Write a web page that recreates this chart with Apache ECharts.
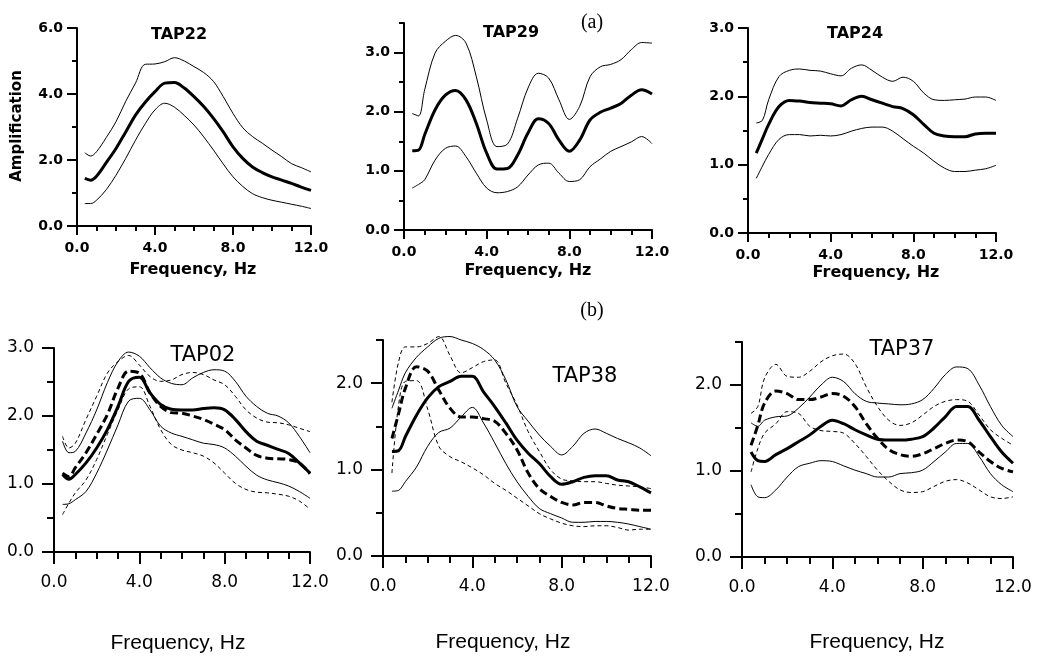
<!DOCTYPE html>
<html>
<head>
<meta charset="utf-8">
<script src="https://cdn.jsdelivr.net/npm/echarts@6/dist/echarts.min.js"></script>
<style>
html,body{margin:0;padding:0;background:#fff;}
#chart{width:1041px;height:657px;}
</style>
</head>
<body>
<div id="chart"></div>
<script>
// ---------------- DATA ----------------
const freq = [0.4,0.7,1,1.5,2,2.5,3,3.5,4,4.5,5,5.5,6,6.5,7,7.5,8,8.5,9,9.5,10,10.5,11,11.5,12];
const xTickLabels = ['0.0','4.0','8.0','12.0'];
const yTickLabels6 = ['0.0','2.0','4.0','6.0'];
const yTickLabels3 = ['0.0','1.0','2.0','3.0'];
const yTickLabels2 = ['0.0','1.0','2.0'];
const panelTitles = ['TAP22','TAP29','TAP24','TAP02','TAP38','TAP37'];

// (a) TAP22
const tap22Mean  = [1.44,1.39,1.51,1.92,2.35,2.85,3.36,3.75,4.07,4.33,4.35,4.18,3.92,3.62,3.26,2.85,2.40,2.05,1.79,1.62,1.49,1.39,1.29,1.18,1.08];
const tap22Upper = [2.22,2.12,2.25,2.68,3.16,3.78,4.33,4.90,4.91,4.98,5.10,5.00,4.83,4.65,4.38,3.92,3.41,2.98,2.71,2.51,2.30,2.10,1.89,1.77,1.64];
const tap22Lower = [0.68,0.68,0.78,1.10,1.54,2.05,2.60,3.10,3.52,3.72,3.60,3.35,3.06,2.70,2.30,1.88,1.49,1.20,0.98,0.86,0.78,0.72,0.66,0.60,0.53];
// (a) TAP29
const tap29Mean  = [1.34,1.35,1.61,2.03,2.28,2.36,2.20,1.80,1.30,1.03,1.04,1.27,1.64,1.88,1.80,1.52,1.33,1.52,1.86,1.99,2.06,2.14,2.28,2.37,2.30];
const tap29Upper = [1.97,1.93,2.37,2.99,3.19,3.29,3.16,2.59,1.86,1.41,1.45,1.89,2.40,2.65,2.57,2.20,1.87,2.09,2.59,2.76,2.80,2.88,3.05,3.17,3.16];
const tap29Lower = [0.71,0.77,0.85,1.18,1.38,1.42,1.24,0.96,0.71,0.63,0.65,0.73,0.93,1.10,1.13,0.96,0.82,0.85,1.07,1.20,1.33,1.41,1.49,1.58,1.46];
// (a) TAP24
const tap24Mean  = [1.17,1.38,1.59,1.85,1.94,1.93,1.91,1.90,1.89,1.86,1.95,2.00,1.95,1.90,1.85,1.82,1.73,1.59,1.46,1.42,1.41,1.41,1.45,1.46,1.46];
const tap24Upper = [1.61,1.65,1.95,2.29,2.38,2.40,2.38,2.37,2.33,2.30,2.41,2.46,2.38,2.28,2.22,2.28,2.22,2.05,1.95,1.94,1.95,1.96,1.99,1.99,1.94];
const tap24Lower = [0.80,0.98,1.15,1.37,1.44,1.44,1.42,1.43,1.42,1.44,1.49,1.53,1.55,1.55,1.49,1.38,1.27,1.17,1.05,0.95,0.90,0.90,0.92,0.94,0.99];
// (b) TAP02
const tap02MeanA  = [1.14,1.07,1.14,1.31,1.53,1.80,2.14,2.51,2.57,2.34,2.17,2.10,2.09,2.09,2.11,2.12,2.09,1.95,1.77,1.63,1.57,1.51,1.45,1.31,1.16];
const tap02MeanB  = [1.16,1.11,1.24,1.46,1.73,2.02,2.41,2.66,2.63,2.34,2.14,2.05,2.04,2.00,1.95,1.88,1.80,1.65,1.53,1.42,1.38,1.37,1.36,1.31,1.15];
const tap02UpperA = [1.63,1.46,1.48,1.75,2.09,2.49,2.80,2.94,2.88,2.71,2.56,2.48,2.46,2.56,2.64,2.68,2.66,2.51,2.29,2.14,2.04,2.00,1.90,1.70,1.46];
const tap02LowerA = [0.70,0.71,0.77,0.89,1.16,1.50,1.87,2.22,2.26,2.09,1.85,1.75,1.70,1.65,1.60,1.58,1.53,1.41,1.26,1.13,1.06,1.02,0.97,0.89,0.79];
const tap02UpperB = [1.70,1.53,1.60,1.95,2.29,2.63,2.80,2.89,2.75,2.58,2.51,2.53,2.61,2.64,2.61,2.53,2.46,2.29,2.09,1.97,1.91,1.90,1.87,1.82,1.77];
const tap02LowerB = [0.55,0.72,0.87,1.06,1.36,1.73,2.09,2.40,2.43,2.14,1.80,1.58,1.50,1.46,1.41,1.31,1.16,1.01,0.92,0.88,0.87,0.85,0.82,0.75,0.63];
// (b) TAP38
const tap38MeanA  = [1.21,1.22,1.38,1.63,1.83,1.96,2.02,2.08,2.08,1.90,1.73,1.54,1.34,1.19,1.07,0.92,0.83,0.86,0.91,0.93,0.93,0.88,0.86,0.80,0.73];
const tap38MeanB  = [1.36,1.65,1.94,2.19,2.14,1.92,1.71,1.61,1.61,1.59,1.56,1.42,1.23,0.96,0.78,0.69,0.62,0.59,0.62,0.62,0.58,0.55,0.54,0.53,0.53];
const tap38UpperA = [1.71,1.92,2.12,2.30,2.42,2.52,2.54,2.50,2.46,2.39,2.27,2.04,1.73,1.56,1.40,1.27,1.17,1.27,1.42,1.47,1.42,1.36,1.31,1.25,1.16];
const tap38LowerA = [0.75,0.76,0.86,1.03,1.27,1.43,1.48,1.61,1.72,1.54,1.31,1.07,0.86,0.69,0.55,0.49,0.44,0.39,0.39,0.40,0.40,0.39,0.37,0.34,0.31];
const tap38UpperB = [1.78,2.25,2.42,2.42,2.46,2.54,2.32,2.12,2.18,2.25,2.27,2.00,1.75,1.44,1.21,1.00,0.89,0.87,0.86,0.86,0.84,0.82,0.81,0.80,0.78];
const tap38LowerB = [0.96,1.75,2.02,2.03,1.70,1.27,1.15,1.09,1.02,0.94,0.84,0.76,0.67,0.58,0.49,0.43,0.38,0.35,0.34,0.35,0.35,0.33,0.30,0.31,0.31];
// (b) TAP37
const tap37MeanA  = [1.22,1.12,1.11,1.19,1.26,1.34,1.42,1.52,1.59,1.55,1.48,1.42,1.37,1.36,1.36,1.37,1.40,1.50,1.63,1.75,1.75,1.59,1.40,1.22,1.09];
const tap37MeanB  = [1.30,1.53,1.79,1.93,1.90,1.83,1.83,1.86,1.90,1.87,1.75,1.55,1.38,1.25,1.19,1.17,1.20,1.26,1.32,1.36,1.34,1.22,1.11,1.03,0.99];
const tap37UpperA = [1.56,1.52,1.59,1.63,1.64,1.73,1.86,2.00,2.09,2.04,1.90,1.81,1.79,1.78,1.77,1.78,1.83,1.96,2.12,2.21,2.19,2.00,1.75,1.53,1.40];
const tap37LowerA = [0.84,0.70,0.69,0.78,0.93,1.05,1.09,1.12,1.11,1.06,1.01,0.97,0.93,0.93,0.97,0.98,1.01,1.11,1.22,1.32,1.32,1.17,0.97,0.84,0.76];
const tap37UpperB = [1.67,1.75,2.08,2.24,2.10,2.09,2.16,2.27,2.34,2.36,2.25,1.98,1.75,1.59,1.53,1.56,1.65,1.75,1.81,1.83,1.81,1.65,1.48,1.38,1.30];
const tap37LowerB = [0.99,1.26,1.44,1.55,1.69,1.67,1.52,1.47,1.46,1.44,1.32,1.17,1.01,0.88,0.78,0.75,0.76,0.82,0.88,0.90,0.86,0.78,0.70,0.68,0.70];

// ---------------- STYLE / LAYOUT ----------------
const TOP = {tick:{family:'"DejaVu Sans"', size:14, weight:'bold', xMargin:15, yMargin:14},
             xMajor:9, xMinor:5, yMajor:10, yMinor:5};
const BOT = {tick:{family:'"DejaVu Sans"', size:17, weight:'normal', xMargin:22, yMargin:20},
             xMajor:12, xMinor:7, yMajor:12, yMinor:7};

const thick = {width:3, type:'solid'};
const thickDash = {width:3, type:[8,4]};
const thin = {width:1, type:'solid'};
const thinDash = {width:1, type:[4,3]};

const panels = [
  {grid:{left:77,top:28,width:234,height:198}, row:TOP, yMax:6, yStep:1, yMajor:2, yLabels:yTickLabels6,
   lines:[[tap22Upper,thin],[tap22Lower,thin],[tap22Mean,thick]]},
  {grid:{left:404,top:23,width:248,height:207}, row:TOP, yMax:3.5, yStep:0.5, yMajor:1, yLabels:yTickLabels3,
   lines:[[tap29Upper,thin],[tap29Lower,thin],[tap29Mean,thick]]},
  {grid:{left:748,top:28,width:248,height:205}, row:TOP, yMax:3, yStep:0.5, yMajor:1, yLabels:yTickLabels3,
   lines:[[tap24Upper,thin],[tap24Lower,thin],[tap24Mean,thick]]},
  {grid:{left:54,top:348,width:256,height:204}, row:BOT, yMax:3, yStep:0.5, yMajor:1, yLabels:yTickLabels3,
   lines:[[tap02UpperB,thinDash],[tap02LowerB,thinDash],[tap02UpperA,thin],[tap02LowerA,thin],[tap02MeanB,thickDash],[tap02MeanA,thick]]},
  {grid:{left:383,top:340,width:268,height:216}, row:BOT, yMax:2.5, yStep:0.5, yMajor:1, yLabels:yTickLabels2,
   lines:[[tap38UpperB,thinDash],[tap38LowerB,thinDash],[tap38UpperA,thin],[tap38LowerA,thin],[tap38MeanB,thickDash],[tap38MeanA,thick]]},
  {grid:{left:742,top:342,width:271,height:215}, row:BOT, yMax:2.5, yStep:0.5, yMajor:1, yLabels:yTickLabels2,
   lines:[[tap37UpperB,thinDash],[tap37LowerB,thinDash],[tap37UpperA,thin],[tap37LowerA,thin],[tap37MeanB,thickDash],[tap37MeanA,thick]]}
];

const titlePos = [[179,35],[511,33],[855,34],[203,356],[585,377],[902,350]];
const namePos = [[193,270],[528,271],[876,273],[178,643],[503,642],[877,642]];

const option = {animation:false, backgroundColor:'#ffffff', grid:[], xAxis:[], yAxis:[], series:[], graphic:[]};

panels.forEach((p, i) => {
  const r = p.row;
  const tf = {color:'#000', fontFamily:r.tick.family, fontSize:r.tick.size, fontWeight:r.tick.weight};
  option.grid.push(Object.assign({}, p.grid));
  option.xAxis.push({
    type:'value', gridIndex:i, min:0, max:12, interval:4,
    axisLine:{show:true, onZero:false, lineStyle:{color:'#000', width:2}},
    axisTick:{show:true, length:r.xMajor, lineStyle:{color:'#000', width:2}},
    minorTick:{show:true, splitNumber:4, length:r.xMinor, lineStyle:{color:'#000', width:2}},
    splitLine:{show:false},
    axisLabel:Object.assign({margin:r.tick.xMargin, formatter:(v)=>xTickLabels[Math.round(v/4)] || ''}, tf)
  });
  const fmt = (v) => {
    const k = v / p.yMajor;
    if (Math.abs(k - Math.round(k)) < 1e-6) return p.yLabels[Math.round(k)] || '';
    return '';
  };
  const majors = p.yLabels.map((_, k) => k * p.yMajor);
  option.yAxis.push({
    type:'value', gridIndex:i, min:0, max:p.yMax, interval:p.yStep, position:'left', offset:0,
    axisLine:{show:true, onZero:false, lineStyle:{color:'#000', width:2}},
    axisTick:{show:true, length:r.yMinor, lineStyle:{color:'#000', width:2}},
    splitLine:{show:false},
    axisLabel:Object.assign({margin:r.tick.yMargin, formatter:fmt, showMinLabel:true, showMaxLabel:true}, tf)
  });
  option.yAxis.push({
    type:'value', gridIndex:i, min:0, max:p.yMax, interval:p.yStep, position:'left', offset:0,
    axisLine:{show:false},
    axisTick:{show:true, length:r.yMajor, customValues:majors, lineStyle:{color:'#000', width:2}},
    splitLine:{show:false},
    axisLabel:{show:false}
  });
  p.lines.forEach(([arr, st]) => {
    option.series.push({
      type:'line', xAxisIndex:i, yAxisIndex:2*i, data:freq.map((f, j) => [f, arr[j]]),
      showSymbol:false, symbol:'none', smooth:0.35, clip:false, silent:true,
      lineStyle:{color:'#000', width:st.width, type:st.type, cap:'butt'}
    });
  });
  const isTop = r === TOP;
  option.graphic.push({
    type:'text', x:titlePos[i][0], y:titlePos[i][1],
    style:{text:panelTitles[i], align:'center', verticalAlign:'middle', fill:'#000',
      font: isTop ? 'bold 16px "DejaVu Sans"' : '21px "DejaVu Sans"'}
  });
  option.graphic.push({
    type:'text', x:namePos[i][0], y:namePos[i][1],
    style:{text:'Frequency, Hz', align:'center', verticalAlign:'middle', fill:'#000',
      font: isTop ? 'bold 16px "DejaVu Sans"' : '21px "Liberation Sans"'}
  });
});

option.graphic.push({
  type:'text', x:17, y:126, rotation:Math.PI/2,
  style:{text:'Amplification', align:'center', verticalAlign:'middle', fill:'#000', font:'bold 15px "DejaVu Sans"'}
});
option.graphic.push({
  type:'text', x:592, y:23,
  style:{text:'(a)', align:'center', verticalAlign:'middle', fill:'#000', font:'20px "Liberation Serif"'}
});
option.graphic.push({
  type:'text', x:592, y:311,
  style:{text:'(b)', align:'center', verticalAlign:'middle', fill:'#000', font:'20px "Liberation Serif"'}
});

const chart = echarts.init(document.getElementById('chart'), null, {renderer:'canvas'});
chart.setOption(option);
</script>
</body>
</html>
